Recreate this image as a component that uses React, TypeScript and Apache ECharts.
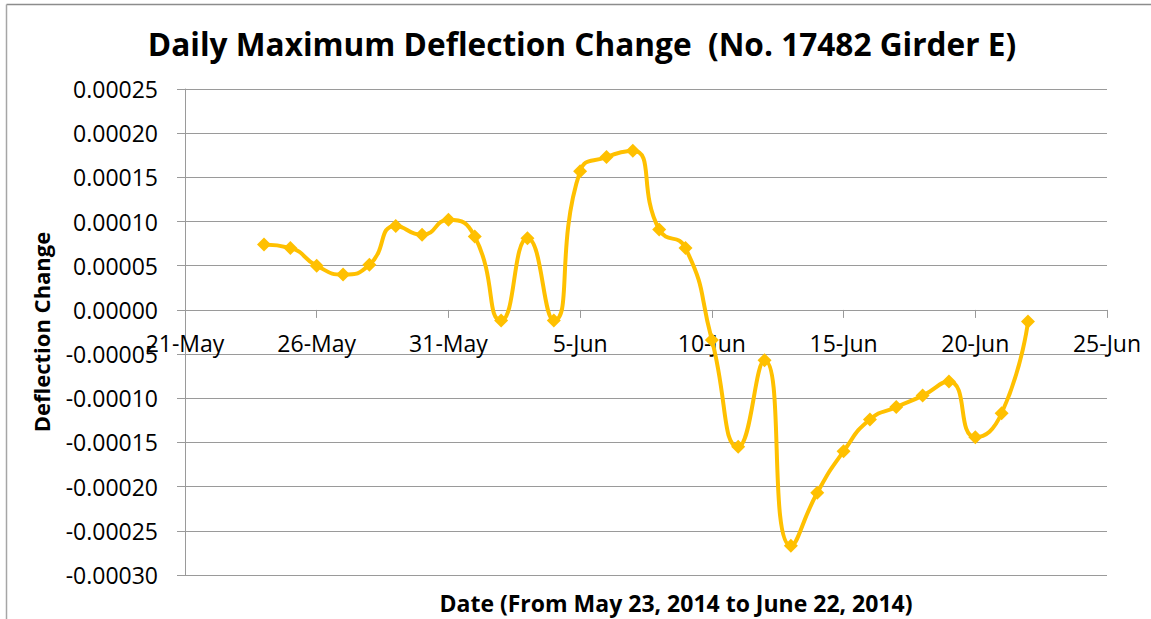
import React, { useEffect, useRef } from "react";
import * as echarts from "echarts";

const dates: string[] = [
  "2014-05-24", "2014-05-25", "2014-05-26", "2014-05-27", "2014-05-28",
  "2014-05-29", "2014-05-30", "2014-05-31", "2014-06-01", "2014-06-02",
  "2014-06-03", "2014-06-04", "2014-06-05", "2014-06-06", "2014-06-07",
  "2014-06-08", "2014-06-09", "2014-06-10", "2014-06-11", "2014-06-12",
  "2014-06-13", "2014-06-14", "2014-06-15", "2014-06-16", "2014-06-17",
  "2014-06-18", "2014-06-19", "2014-06-20", "2014-06-21", "2014-06-22",
];

const deflection: number[] = [
  0.000074, 0.00007, 0.00005, 0.00004, 0.000051,
  0.000095, 0.000085, 0.000102, 0.000083, -0.000012,
  0.000081, -0.000012, 0.000157, 0.000173, 0.00018,
  0.000091, 0.00007, -0.000034, -0.000155, -0.000057,
  -0.000267, -0.000207, -0.00016, -0.000124, -0.00011,
  -0.000097, -0.000081, -0.000144, -0.000117, -0.000013,
];

const axisStartDate = "2014-05-21";
const tickLabels: string[] = ["21-May", "26-May", "31-May", "5-Jun", "10-Jun", "15-Jun", "20-Jun", "25-Jun"];

const yMin = -0.0003;
const yMax = 0.00025;
const yStep = 0.00005;

const titleText = "Daily Maximum Deflection Change  (No. 17482 Girder E)";
const xName = "Date (From May 23, 2014 to June 22, 2014)";
const yName = "Deflection Change";

const DAY = 86400000;

export default function App() {
  const ref = useRef<HTMLDivElement>(null);
  useEffect(() => {
    if (!ref.current) return;
    const chart = echarts.init(ref.current, null, { renderer: "svg" });
    const t0 = Date.parse(axisStartDate);
    const data = dates.map((d, i) => [(Date.parse(d) - t0) / DAY, deflection[i]]);
    const font = "'Open Sans', sans-serif";
    const gridColor = "#9a9a9a";
    const gridTop = 89;
    const gridBottom = 44;
    const gridHeight = 619 - gridTop - gridBottom;
    // move the x axis (line, ticks and labels) up to the y = 0 position
    const zeroOffset = -gridHeight * ((0 - yMin) / (yMax - yMin));
    chart.setOption({
      animation: false,
      backgroundColor: "#ffffff",
      title: [
        {
          text: titleText,
          left: 577,
          top: 22,
          textAlign: "center",
          textStyle: { fontFamily: font, fontSize: 31.6, fontWeight: "bold", color: "#000" },
        },
        {
          text: xName,
          left: 671,
          top: 586,
          textAlign: "center",
          textStyle: { fontFamily: font, fontSize: 23, fontWeight: "bold", color: "#000" },
        },
      ],
      graphic: [
        { type: "line", shape: { x1: 6.5, y1: 4.5, x2: 1151, y2: 4.5 }, style: { stroke: "#8c8c8c", lineWidth: 1.5 } },
        { type: "line", shape: { x1: 6.5, y1: 4.5, x2: 6.5, y2: 619 }, style: { stroke: "#a6a6a6", lineWidth: 1.5 } },
      ],
      grid: { left: 185, right: 44, top: gridTop, bottom: gridBottom, containLabel: false },
      xAxis: {
        type: "value",
        min: 0,
        max: 35,
        interval: 5,
        position: "bottom",
        offset: zeroOffset,
        axisLine: { show: true, onZero: false, lineStyle: { color: gridColor, width: 1 } },
        axisTick: { show: true, length: 8, lineStyle: { color: gridColor } },
        splitLine: { show: false },
        axisLabel: {
          margin: 22,
          fontFamily: font,
          fontSize: 23,
          color: "#000",
          showMinLabel: true,
          showMaxLabel: true,
          formatter: (v: number) => tickLabels[Math.round(v / 5)] ?? "",
        },
      },
      yAxis: {
        type: "value",
        min: yMin,
        max: yMax,
        interval: yStep,
        name: yName,
        nameLocation: "middle",
        nameRotate: 90,
        nameGap: 133,
        nameTextStyle: { fontFamily: font, fontSize: 22, fontWeight: "bold", color: "#000" },
        axisLine: { show: true, lineStyle: { color: gridColor, width: 1 } },
        axisTick: { show: true, length: 8, lineStyle: { color: gridColor } },
        splitLine: { show: true, lineStyle: { color: gridColor, width: 1 } },
        axisLabel: {
          margin: 27,
          fontFamily: font,
          fontSize: 23,
          color: "#000",
          formatter: (v: number) => {
            const r = Math.abs(v) < 1e-12 ? 0 : v;
            return r.toFixed(5);
          },
        },
      },
      series: [
        {
          type: "line",
          data,
          smooth: 0.55,
          symbol: "diamond",
          symbolSize: 14,
          lineStyle: { color: "#FFC000", width: 4 },
          itemStyle: { color: "#FFC000" },
        },
      ],
    });
    return () => chart.dispose();
  }, []);
  return (
    <div
      ref={ref}
      style={{ position: "fixed", left: 0, top: 0, width: 1151, height: 619, background: "#fff" }}
    />
  );
}
